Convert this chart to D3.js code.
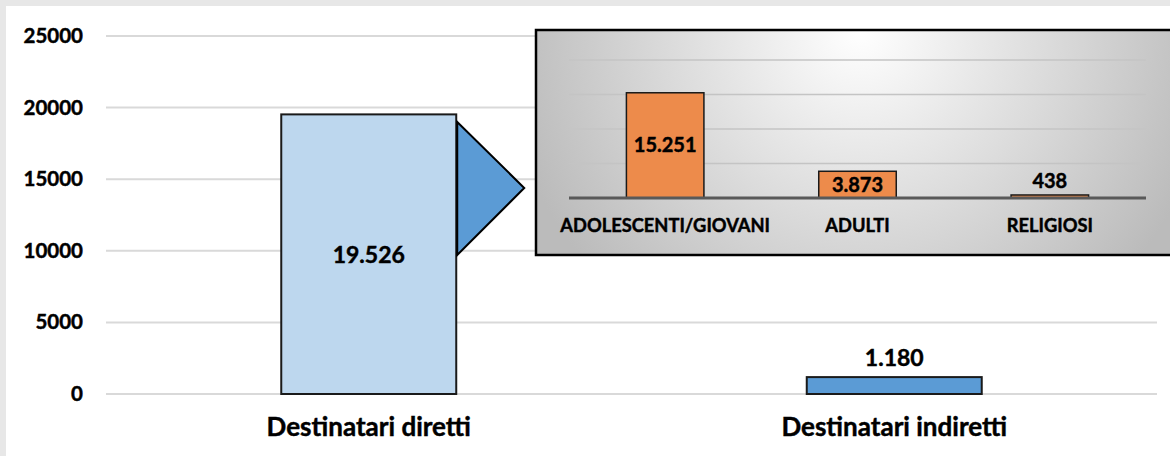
<!DOCTYPE html>
<html>
<head>
<meta charset="utf-8">
<script src="https://cdn.jsdelivr.net/npm/d3@7"></script>
<style>
  html, body { margin: 0; padding: 0; background: #e7e7e7; overflow: hidden; }
  svg { display: block; font-family: Lato, "Open Sans", sans-serif; font-weight: bold; }
  svg text { stroke: #000; stroke-width: 0.45px; }
</style>
</head>
<body>
<svg id="chart" width="1170" height="456"></svg>
<script>
// dati del grafico principale
const categorie = ['Destinatari diretti', 'Destinatari indiretti'];
const valori = [19526, 1180];
const etichetteValori = ['19.526', '1.180'];
const coloriBarre = ['#BDD7EE', '#5B9BD5'];
const tickY = [0, 5000, 10000, 15000, 20000, 25000];

// dati del riquadro (dettaglio destinatari diretti)
const categorieDett = ['ADOLESCENTI/GIOVANI', 'ADULTI', 'RELIGIOSI'];
const valoriDett = [15251, 3873, 438];
const etichetteDett = ['15.251', '3.873', '438'];
const tickDett = [0, 5000, 10000, 15000, 20000];

function disegna() {
    const svg = d3.select('#chart');
    const width = 1170, height = 456;

    // pannello bianco
    svg.append('rect')
        .attr('x', 6).attr('y', 6)
        .attr('width', width).attr('height', height)
        .attr('fill', '#ffffff');

    const margin = { top: 36, right: 13, bottom: 62, left: 106 };

    const x = d3.scaleBand()
        .domain(categorie)
        .range([margin.left, width - margin.right])
        .paddingInner(0.667)
        .paddingOuter(0.3335);

    const y = d3.scaleLinear()
        .domain([0, 25000])
        .range([height - margin.bottom, margin.top]);

    // griglia
    svg.append('g')
        .selectAll('line')
        .data(tickY)
        .join('line')
        .attr('x1', margin.left)
        .attr('x2', width - margin.right)
        .attr('y1', d => y(d))
        .attr('y2', d => y(d))
        .attr('stroke', '#d9d9d9')
        .attr('stroke-width', 2);

    // asse y
    const yAxis = g => g
        .attr('transform', `translate(${margin.left - 6},0)`)
        .call(d3.axisLeft(y).tickValues(tickY).tickSize(0).tickPadding(17).tickFormat(d3.format('d')))
        .call(g => g.select('.domain').remove())
        .call(g => g.selectAll('text')
            .attr('font-size', 20.5)
            .attr('font-family', 'Lato, sans-serif')
            .attr('font-weight', 'bold')
            .attr('fill', '#000'));
    svg.append('g').call(yAxis);

    // asse x
    const xAxis = g => g
        .attr('transform', `translate(0,${height - margin.bottom})`)
        .call(d3.axisBottom(x).tickSize(0).tickPadding(24))
        .call(g => g.select('.domain').remove())
        .call(g => g.selectAll('text')
            .attr('font-size', 26)
            .attr('font-family', 'Lato, sans-serif')
            .attr('font-weight', 'bold')
            .attr('fill', '#000'));
    svg.append('g').call(xAxis);

    // barre
    svg.append('g')
        .selectAll('rect')
        .data(valori)
        .join('rect')
        .attr('x', (d, i) => x(categorie[i]))
        .attr('y', d => y(d))
        .attr('width', x.bandwidth())
        .attr('height', d => y(0) - y(d))
        .attr('fill', (d, i) => coloriBarre[i])
        .attr('stroke', '#1a1a1a')
        .attr('stroke-width', 2);

    // etichette valori: dentro la prima barra, sopra la seconda
    svg.append('g')
        .selectAll('text')
        .data(valori)
        .join('text')
        .attr('x', (d, i) => x(categorie[i]) + x.bandwidth() / 2)
        .attr('y', (d, i) => i === 0 ? (y(d) + y(0)) / 2 + 9 : y(d) - 11)
        .attr('text-anchor', 'middle')
        .attr('font-size', 23)
        .attr('fill', '#000')
        .text((d, i) => etichetteValori[i]);

    // freccia verso il riquadro
    const bx = x(categorie[0]) + x.bandwidth() + 1;
    svg.append('path')
        .attr('d', `M${bx},122 L${bx + 67},188 L${bx},255 Z`)
        .attr('fill', '#5B9BD5')
        .attr('stroke', '#000')
        .attr('stroke-width', 2)
        .attr('stroke-linejoin', 'miter');

    // riquadro di dettaglio
    const defs = svg.append('defs');
    const grad = defs.append('radialGradient')
        .attr('id', 'sfondo')
        .attr('gradientUnits', 'userSpaceOnUse')
        .attr('cx', 860).attr('cy', 30).attr('r', 360);
    grad.append('stop').attr('offset', 0).attr('stop-color', '#ffffff');
    grad.append('stop').attr('offset', 1).attr('stop-color', '#bbbbbb');

    const box = { x: 536, y: 30, w: 660, h: 225 };
    svg.append('rect')
        .attr('x', box.x).attr('y', box.y)
        .attr('width', box.w).attr('height', box.h)
        .attr('fill', 'url(#sfondo)')
        .attr('stroke', '#000')
        .attr('stroke-width', 2.5);

    const xd = d3.scaleBand()
        .domain(categorieDett)
        .range([569, 1146])
        .paddingInner(0.597)
        .paddingOuter(0.2985);

    const yd = d3.scaleLinear()
        .domain([0, 20000])
        .range([198, 60]);

    svg.append('g')
        .selectAll('line')
        .data(tickDett.slice(1))
        .join('line')
        .attr('x1', 569).attr('x2', 1146)
        .attr('y1', d => yd(d)).attr('y2', d => yd(d))
        .attr('stroke', '#c4c4c4')
        .attr('stroke-width', 1.5);

    svg.append('g')
        .selectAll('rect')
        .data(valoriDett)
        .join('rect')
        .attr('x', (d, i) => xd(categorieDett[i]))
        .attr('y', d => yd(d))
        .attr('width', xd.bandwidth())
        .attr('height', d => yd(0) - yd(d))
        .attr('fill', '#ED8B4B')
        .attr('stroke', '#1a1a1a')
        .attr('stroke-width', 1.5);

    // linea di base
    svg.append('line')
        .attr('x1', 569).attr('x2', 1146)
        .attr('y1', yd(0)).attr('y2', yd(0))
        .attr('stroke', '#595959')
        .attr('stroke-width', 3);

    svg.append('g')
        .attr('transform', `translate(0,${yd(0)})`)
        .call(d3.axisBottom(xd).tickSize(0).tickPadding(21))
        .call(g => g.select('.domain').remove())
        .call(g => g.selectAll('text')
            .attr('font-size', 18.3)
            .attr('font-family', 'Lato, sans-serif')
            .attr('font-weight', 'bold')
            .attr('fill', '#000'));

    svg.append('g')
        .selectAll('text')
        .data(valoriDett)
        .join('text')
        .attr('x', (d, i) => xd(categorieDett[i]) + xd.bandwidth() / 2)
        .attr('y', d => (yd(0) - yd(d)) > 22 ? (yd(d) + yd(0)) / 2 + 7 : yd(d) - 7)
        .attr('text-anchor', 'middle')
        .attr('font-size', 20)
        .attr('fill', '#000')
        .text((d, i) => etichetteDett[i]);
}

document.addEventListener('DOMContentLoaded', disegna);
</script>
</body>
</html>
